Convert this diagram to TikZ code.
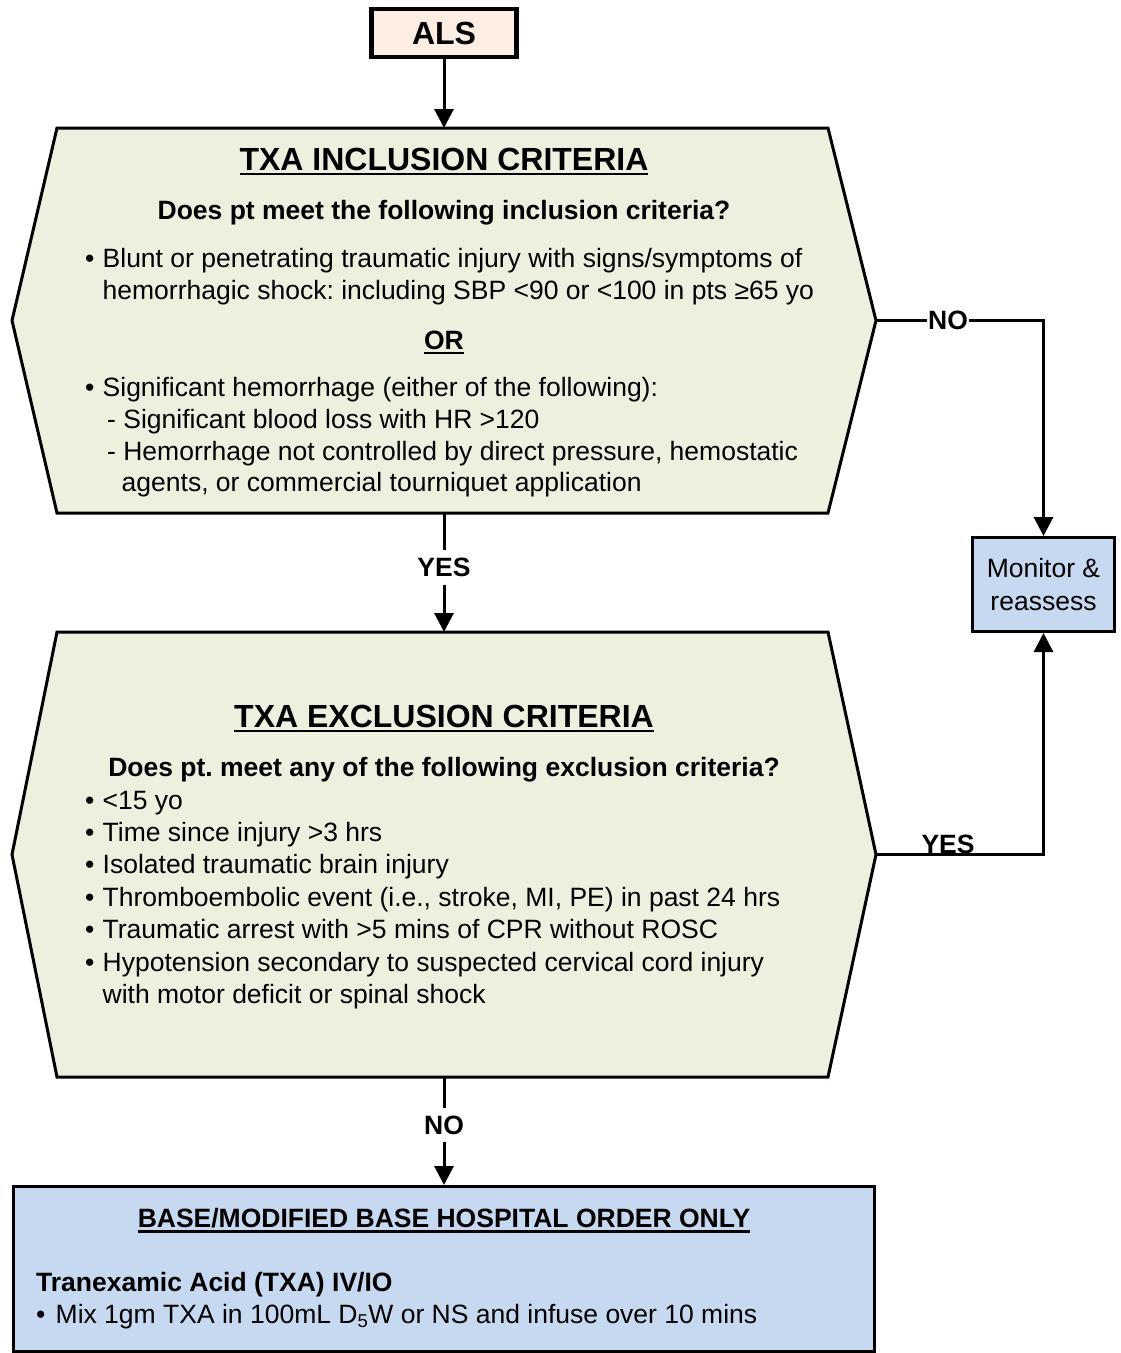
\documentclass[tikz,border=0pt]{standalone}
\usepackage{fontspec}
\setmainfont{Liberation Sans}
\usetikzlibrary{arrows.meta}
\definecolor{hexfill}{HTML}{EBF1DE}
\definecolor{bluefill}{HTML}{C6D9F1}
\definecolor{alsfill}{HTML}{FDEDE3}
\newcommand\ulx[3]{\setbox0\hbox{#3}\rlap{\rule[-#1]{\wd0}{#2}}\box0}
\frenchspacing
\begin{document}
\begin{tikzpicture}[x=1pt,y=-1pt,
  every node/.style={font=\fontsize{26.5}{32.5}\selectfont},
  txt/.style={anchor=base west, inner sep=0pt},
  ctxt/.style={anchor=base, inner sep=0pt},
  boldtxt/.style={font=\fontsize{26.5}{32.5}\selectfont\bfseries},
  titletxt/.style={font=\fontsize{32}{36}\selectfont\bfseries},
  hexshape/.style={draw=black, line width=3pt, fill=hexfill, line join=miter},
  conn/.style={draw=black, line width=3pt, -{Triangle[width=19pt,length=19pt]}},
  lbl/.style={font=\fontsize{26.5}{32.5}\selectfont\bfseries, fill=white, inner xsep=1.5pt, inner ysep=8pt},
  holder/.style={inner sep=0pt, outer sep=0pt, draw=none},
  ]
\useasboundingbox (0,0) rectangle (1121,1353);

% ALS
\node[draw, line width=4.5pt, fill=alsfill, minimum width=145pt, minimum height=48pt,
      inner sep=0pt, titletxt] (als) at (444,33) {ALS};

% hexagon holders
\node[holder, minimum width=864pt, minimum height=385pt] (hex1) at (444,320.5) {};
\node[holder, minimum width=864pt, minimum height=445pt] (hex2) at (444,854.5) {};

\draw[hexshape] ([xshift=45pt]hex1.north west) -- ([xshift=-48pt]hex1.north east) -- (hex1.east)
  -- ([xshift=-48pt]hex1.south east) -- ([xshift=45pt]hex1.south west) -- (hex1.west) -- cycle;
\draw[hexshape] ([xshift=45pt]hex2.north west) -- ([xshift=-48pt]hex2.north east) -- (hex2.east)
  -- ([xshift=-48pt]hex2.south east) -- ([xshift=45pt]hex2.south west) -- (hex2.west) -- cycle;

% Monitor box
\node[draw, line width=3pt, fill=bluefill, minimum width=142pt, minimum height=94pt,
      inner sep=0pt, align=center] (mon) at (1043.5,584.5) {Monitor \&\\reassess};

% Base hospital box
\node[draw, line width=3pt, fill=bluefill, minimum width=861pt, minimum height=165pt,
      inner sep=0pt] (base) at (444,1269) {};

% Inclusion texts
\node[ctxt, titletxt] (t1) at (444,170) {\ulx{5pt}{2.5pt}{TXA INCLUSION CRITERIA}};
\node[ctxt, boldtxt] (q1) at (444,219.3) {Does pt meet the following inclusion criteria?};
\node[txt] (b1a) at (85,267.3) {\textbullet};
\node[txt] (i1a) at (102.5,267.3) {Blunt or penetrating traumatic injury with signs/symptoms of};
\node[txt] (i1b) at (102.5,299) {hemorrhagic shock: including SBP <90 or <100 in pts ≥65 yo};
\node[ctxt, boldtxt] (or) at (444,349.3) {\ulx{4.5pt}{2.3pt}{OR}};
\node[txt] (b1b) at (85,396) {\textbullet};
\node[txt] (i1c) at (102.5,396) {Significant hemorrhage (either of the following):};
\node[txt] (i1d) at (107,428) {- Significant blood loss with HR >120};
\node[txt] (i1e) at (107,460) {- Hemorrhage not controlled by direct pressure, hemostatic};
\node[txt] (i1f) at (121.5,491.7) {agents, or commercial tourniquet application};

% Exclusion texts
\node[ctxt, titletxt] (t2) at (444,727.3) {\ulx{5pt}{2.5pt}{TXA EXCLUSION CRITERIA}};
\node[ctxt, boldtxt] (q2) at (444,776.7) {Does pt. meet any of the following exclusion criteria?};
\node[txt] (b2a) at (85,809) {\textbullet};
\node[txt] (e2a) at (102.5,809) {<15 yo};
\node[txt] (b2b) at (85,841.7) {\textbullet};
\node[txt] (e2b) at (102.5,841.7) {Time since injury >3 hrs};
\node[txt] (b2c) at (85,873.3) {\textbullet};
\node[txt] (e2c) at (102.5,873.3) {Isolated traumatic brain injury};
\node[txt] (b2d) at (85,906) {\textbullet};
\node[txt] (e2d) at (102.5,906) {Thromboembolic event (i.e., stroke, MI, PE) in past 24 hrs};
\node[txt] (b2e) at (85,938.3) {\textbullet};
\node[txt] (e2e) at (102.5,938.3) {Traumatic arrest with >5 mins of CPR without ROSC};
\node[txt] (b2f) at (85,971) {\textbullet};
\node[txt] (e2f) at (102.5,971) {Hypotension secondary to suspected cervical cord injury};
\node[txt] (e2g) at (102.5,1003.3) {with motor deficit or spinal shock};

% Base box texts
\node[ctxt, boldtxt] (bt) at (444,1227) {\ulx{5.5pt}{2.5pt}{BASE/MODIFIED BASE HOSPITAL ORDER ONLY}};
\node[txt, boldtxt] (bd) at (36,1291.7) {Tranexamic Acid (TXA) IV/IO};
\node[txt] (bb) at (36,1323.3) {\textbullet};
\node[txt] (bm) at (55.5,1323.3) {Mix 1gm TXA in 100mL D\textsubscript{5}W or NS and infuse over 10 mins};

% Connectors
\draw[conn] (als.south) -- (hex1.north);
\draw[conn] (hex1.south) -- node[lbl, pos=0.455] {YES} (hex2.north);
\draw[conn] (hex2.south) -- node[lbl, pos=0.444] {NO} (base.north);
\draw[conn] (hex1.east) -- node[lbl, pos=0.43, inner ysep=2pt] {NO} (hex1.east -| mon.north) -- (mon.north);
\draw[conn] (hex2.east) -- node[pos=0.43, anchor=base, inner sep=0pt, yshift=1pt, boldtxt] {YES} (hex2.east -| mon.south) -- (mon.south);
\end{tikzpicture}
\end{document}
